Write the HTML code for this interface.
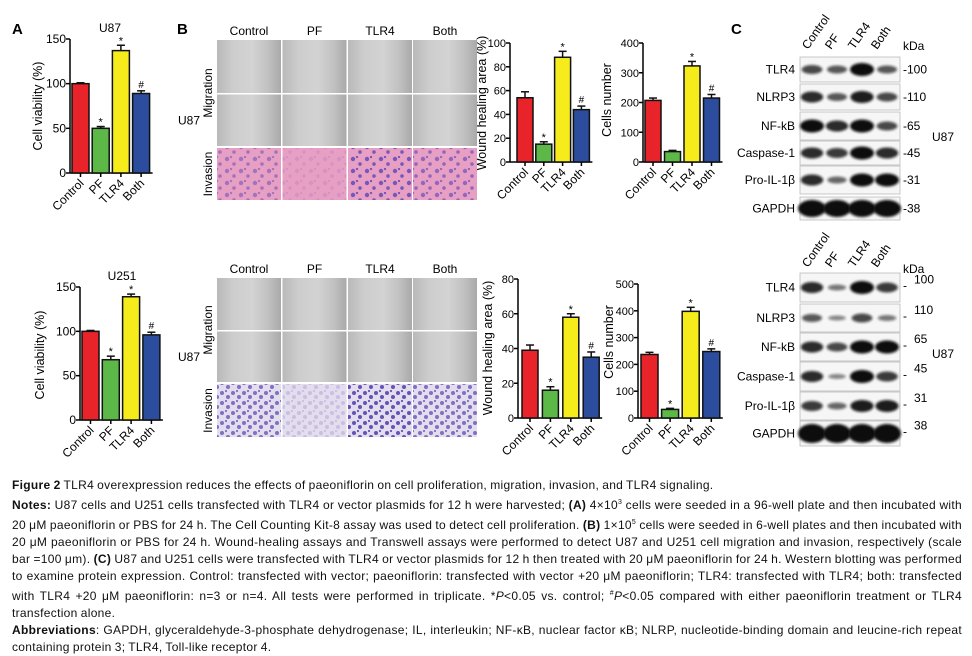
<!DOCTYPE html>
<html><head><meta charset="utf-8">
<style>
html,body{margin:0;padding:0;background:#fff;}
body{width:972px;height:654px;position:relative;overflow:hidden;font-family:"Liberation Sans",sans-serif;}
#fig{position:absolute;left:0;top:0;}
#caption{position:absolute;left:12px;top:477px;width:950px;font-size:12px;line-height:17px;color:#111;text-align:justify;letter-spacing:0.3px;word-spacing:-0.5px;}
#caption p{margin:0;text-align-last:left;}
</style></head>
<body>
<svg id="fig" width="972" height="475" viewBox="0 0 972 475" xmlns="http://www.w3.org/2000/svg" font-family="Liberation Sans, sans-serif">
<defs>
<linearGradient id="mig" x1="0" x2="1" y1="0" y2="0">
<stop offset="0" stop-color="#b9b9b9"/><stop offset="0.25" stop-color="#cdcdcd"/><stop offset="0.55" stop-color="#d3d3d3"/><stop offset="0.8" stop-color="#c1c1c1"/><stop offset="1" stop-color="#a9a9a9"/>
</linearGradient>
<pattern id="dotsA" width="14" height="12" patternUnits="userSpaceOnUse">
<circle cx="3" cy="3" r="2.2" fill="#6a4fb8"/><circle cx="10" cy="8" r="1.8" fill="#6a4fb8"/><circle cx="7" cy="1" r="1.2" fill="#6a4fb8"/>
</pattern>
<pattern id="dotsB" width="11" height="10" patternUnits="userSpaceOnUse">
<circle cx="2" cy="3" r="2" fill="#5d4cb3"/><circle cx="8" cy="7" r="2" fill="#5d4cb3"/><circle cx="6" cy="1" r="1.1" fill="#5d4cb3"/>
</pattern>
<filter id="blur" x="-20%" y="-80%" width="140%" height="260%"><feGaussianBlur stdDeviation="1.3"/></filter>
</defs>
<g id="charts"></g>
<g id="photos"></g>
<g id="blots"></g>
<text x="12" y="34" font-size="15" font-weight="bold">A</text>
<text x="177" y="34" font-size="15" font-weight="bold">B</text>
<text x="731" y="34" font-size="15" font-weight="bold">C</text>
<text x="110" y="32" font-size="12" text-anchor="middle">U87</text>
<text x="122" y="280" font-size="12" text-anchor="middle">U251</text>
</svg>
<div id="caption">
<p><b>Figure 2</b> TLR4 overexpression reduces the effects of paeoniflorin on cell proliferation, migration, invasion, and TLR4 signaling.</p>
<p><b>Notes:</b> U87 cells and U251 cells transfected with TLR4 or vector plasmids for 12 h were harvested; <b>(A)</b> 4×10<sup style="font-size:7px">3</sup> cells were seeded in a 96-well plate and then incubated with 20 μM paeoniflorin or PBS for 24 h. The Cell Counting Kit-8 assay was used to detect cell proliferation. <b>(B)</b> 1×10<sup style="font-size:7px">5</sup> cells were seeded in 6-well plates and then incubated with 20 μM paeoniflorin or PBS for 24 h. Wound-healing assays and Transwell assays were performed to detect U87 and U251 cell migration and invasion, respectively (scale bar =100 μm). <b>(C)</b> U87 and U251 cells were transfected with TLR4 or vector plasmids for 12 h then treated with 20 μM paeoniflorin for 24 h. Western blotting was performed to examine protein expression. Control: transfected with vector; paeoniflorin: transfected with vector +20 μM paeoniflorin; TLR4: transfected with TLR4; both: transfected with TLR4 +20 μM paeoniflorin: n=3 or n=4. All tests were performed in triplicate. *<i>P</i>&lt;0.05 vs. control; <sup style="font-size:7px">#</sup><i>P</i>&lt;0.05 compared with either paeoniflorin treatment or TLR4 transfection alone.</p>
<p><b>Abbreviations</b>: GAPDH, glyceraldehyde-3-phosphate dehydrogenase; IL, interleukin; NF-κB, nuclear factor κB; NLRP, nucleotide-binding domain and leucine-rich repeat containing protein 3; TLR4, Toll-like receptor 4.</p>
</div>
<script>
const categories = ["Control","PF","TLR4","Both"];
const barColors = ["#e8242a","#5cb947","#f6ec1c","#2c4d9d"];
const u87Viability = [100, 50, 137, 89];
const u87ViabilityErr = [1, 2, 6, 3];
const u87ViabilityMarks = ["", "*", "*", "#"];
const u251Viability = [100, 68, 139, 96];
const u251ViabilityErr = [1, 4, 3, 3];
const u251ViabilityMarks = ["", "*", "*", "#"];
const u87Wound = [54, 15, 88, 44];
const u87WoundErr = [5, 2, 5, 3];
const u87WoundMarks = ["", "*", "*", "#"];
const u87Cells = [207, 35, 323, 215];
const u87CellsErr = [8, 4, 15, 12];
const u87CellsMarks = ["", "", "*", "#"];
const u251Wound = [39, 16, 58, 35];
const u251WoundErr = [3, 2, 2, 3];
const u251WoundMarks = ["", "*", "*", "#"];
const u251Cells = [237, 32, 398, 248];
const u251CellsErr = [8, 4, 15, 10];
const u251CellsMarks = ["", "*", "*", "#"];
const ticksViability = [0, 50, 100, 150];
const ticksWoundTop = [0, 20, 40, 60, 80, 100];
const ticksCellsTop = [0, 100, 200, 300, 400];
const ticksWoundBottom = [0, 20, 40, 60, 80];
const ticksCellsBottom = [0, 100, 200, 300, 400, 500];

const NS = "http://www.w3.org/2000/svg";
function mk(tag, attrs, parent, txt){
  const e = document.createElementNS(NS, tag);
  for (const k in attrs) e.setAttribute(k, attrs[k]);
  if (txt !== undefined) e.textContent = txt;
  parent.appendChild(e);
  return e;
}
const chartsG = document.getElementById("charts");

function drawChart(name, cfg, values, errs, marks, ticks){
  const g = mk("g", {}, chartsG);
  
  
  const maxV = ticks[ticks.length-1];
  const yS = v => cfg.y0 - (v / maxV) * (cfg.y0 - cfg.yTop);
  const xS = i => cfg.x0 + i * cfg.step;
  const endX = xS(3) + cfg.w + 3;
  const tfs = cfg.tfs || 12;
  const ya = mk("line", {x1:cfg.ax, y1:cfg.y0, x2:cfg.ax, y2:cfg.yTop, stroke:"#000","stroke-width":1.5}, g);
  
  
  const xa = mk("line", {x1:cfg.ax, y1:cfg.y0, x2:endX, y2:cfg.y0, stroke:"#000","stroke-width":1.5}, g);
  
  
  ticks.forEach(t => {
    mk("line", {x1:cfg.ax-4, y1:yS(t), x2:cfg.ax, y2:yS(t), stroke:"#000","stroke-width":1.5}, g);
    const tl = mk("text", {x:cfg.ax-4, y:yS(t)+4, "font-size":tfs, "text-anchor":"end"}, g, String(t));
    
    
  });
  const yt = mk("text", {x:0, y:0, "font-size":12.5, "text-anchor":"middle", transform:`translate(${cfg.tx},${cfg.ty}) rotate(-90)`}, g, cfg.title);
  
  
  values.forEach((v, i) => {
    const x = xS(i);
    const b = mk("rect", {x:x, y:yS(v), width:cfg.w, height:cfg.y0 - yS(v), fill:barColors[i], stroke:"#111","stroke-width":1.5}, g);
    
    
    const cx = x + cfg.w/2;
    const top = yS(v + errs[i]);
    mk("line", {x1:cx, y1:yS(v), x2:cx, y2:top, stroke:"#111","stroke-width":1.5}, g);
    mk("line", {x1:cx-4, y1:top, x2:cx+4, y2:top, stroke:"#111","stroke-width":1.5}, g);
    if (marks[i]) {
      const m = mk("text", {x:cx, y:top - (marks[i]==="*" ? 1 : 3), "font-size": marks[i]==="*" ? 11 : 10, "text-anchor":"middle"}, g, marks[i]);
      
      
    }
    mk("line", {x1:cx, y1:cfg.y0, x2:cx, y2:cfg.y0+4, stroke:"#000","stroke-width":1.5}, g);
    const cl = mk("text", {x:0, y:0, "font-size":12, "text-anchor":"end", transform:`translate(${cx+4},${cfg.y0+11}) rotate(-45)`}, g, categories[i]);
    
    
  });
}
drawChart("u87-viability-chart", {ax:70, y0:173, yTop:39, x0:72, step:20.2, w:17, tx:42, ty:106, title:"Cell viability (%)"}, u87Viability, u87ViabilityErr, u87ViabilityMarks, ticksViability);
drawChart("u251-viability-chart", {ax:80, y0:420, yTop:287, x0:82, step:20.3, w:17, tx:44, ty:355, title:"Cell viability (%)"}, u251Viability, u251ViabilityErr, u251ViabilityMarks, ticksViability);
drawChart("u87-wound-chart", {ax:510, y0:162, yTop:43, x0:517, step:18.8, w:16, tx:486, ty:103, title:"Wound healing area (%)", tfs:11}, u87Wound, u87WoundErr, u87WoundMarks, ticksWoundTop);
drawChart("u87-cells-chart", {ax:643, y0:162, yTop:43, x0:645, step:19.5, w:16, tx:611, ty:100, title:"Cells number", tfs:11}, u87Cells, u87CellsErr, u87CellsMarks, ticksCellsTop);
drawChart("u251-wound-chart", {ax:518, y0:418, yTop:279, x0:522, step:20.4, w:16, tx:492, ty:348, title:"Wound healing area (%)", tfs:11}, u251Wound, u251WoundErr, u251WoundMarks, ticksWoundBottom);
drawChart("u251-cells-chart", {ax:638, y0:418, yTop:284, x0:641, step:20.6, w:17, tx:613, ty:342, title:"Cells number", tfs:11}, u251Cells, u251CellsErr, u251CellsMarks, ticksCellsBottom);

const photosG = document.getElementById("photos");
const colX = [217, 282.5, 348, 413];
const invDensityTop = [0.55, 0.15, 0.9, 0.7];
const invDensityBot = [0.75, 0.2, 0.95, 0.75];
function drawGrid(name, top, rows, invBase, dotPat, dens){
  const g = mk("g", {}, photosG);
  
  
  categories.forEach((c, i) => {
    const h = mk("text", {x:colX[i]+32, y:top-5, "font-size":12, "text-anchor":"middle"}, g, c);
    
    
    for (let r = 0; r < 2; r++) {
      const p = mk("rect", {x:colX[i], y:rows[r][0], width:64, height:rows[r][1]-rows[r][0], fill:"url(#mig)"}, g);
      
      
    }
    const ip = mk("rect", {x:colX[i], y:rows[2][0], width:64, height:rows[2][1]-rows[2][0], fill:invBase}, g);
    
    
    mk("rect", {x:colX[i], y:rows[2][0], width:64, height:rows[2][1]-rows[2][0], fill:"url(#"+dotPat+")", opacity:dens[i]}, g);
  });
  mk("text", {x:0, y:0, "font-size":12, "text-anchor":"middle", transform:`translate(212,${(rows[0][0]+rows[1][1])/2}) rotate(-90)`}, g, "Migration");
  mk("text", {x:0, y:0, "font-size":12, "text-anchor":"middle", transform:`translate(212,${(rows[2][0]+rows[2][1])/2}) rotate(-90)`}, g, "Invasion");
  mk("text", {x:178, y:(rows[1][0]+rows[1][1])/2+4, "font-size":12}, g, "U87");
}
drawGrid("u87-photo-grid", 40, [[40,93],[94.5,146],[148,200]], "#e7a0c4", "dotsA", invDensityTop);
drawGrid("u251-photo-grid", 278, [[278,330],[331.5,382],[384,437]], "#e3ddee", "dotsB", invDensityBot);

const blotsG = document.getElementById("blots");
const proteins = ["TLR4","NLRP3","NF-kB","Caspase-1","Pro-IL-1β","GAPDH"];
const kdaTop = ["-100","-110","-65","-45","-31","-38"];
const kdaBot = ["100","110","65","45","31","38"];
const bandsTop = [[0.6,0.5,1,0.5],[0.8,0.5,0.9,0.6],[1,0.8,1,0.6],[0.8,0.7,1,0.8],[0.8,0.4,1,1],[1,1,1,1]];
const bandsBot = [[0.8,0.3,1,0.7],[0.5,0.2,0.6,0.3],[0.8,0.6,1,1],[0.8,0.2,1,0.7],[0.7,0.4,0.9,0.9],[1,1,1,1]];
function drawBlot(name, rows, bands, kda, headerY, kdaY, u87Y, dotted){
  const g = mk("g", {}, blotsG);
  
  
  categories.forEach((c, i) => {
    const t = mk("text", {x:0, y:0, "font-size":12, transform:`translate(${808+i*23},${headerY}) rotate(-55)`}, g, c);
    
    
  });
  mk("text", {x:903, y:kdaY, "font-size":12}, g, "kDa");
  rows.forEach((r, k) => {
    const box = mk("rect", {x:800, y:r[0], width:100, height:r[1]-r[0], fill:"#f6f6f6", stroke:"#bbb","stroke-width":0.8}, g);
    
    
    const cy = (r[0]+r[1])/2;
    bands[k].forEach((v, i) => {
      const full = k === 5;
      mk("ellipse", {cx:812+i*25, cy:cy, rx: full ? 14 : 8 + 4*v, ry: full ? (r[1]-r[0])/2-3 : 1.5 + 5*v, fill:"#111", opacity: 0.35 + 0.65*v, filter:"url(#blur)"}, g);
    });
    const lb = mk("text", {x:795, y:cy+4, "font-size":12, "text-anchor":"end"}, g, proteins[k]);
    
    
    if (dotted) {
      mk("text", {x:903, y:cy+2, "font-size":12}, g, "-");
      mk("text", {x:914, y:cy-4, "font-size":12}, g, kda[k]);
    } else {
      mk("text", {x:903, y:cy+4, "font-size":12}, g, kda[k]);
    }
  });
  mk("text", {x:932, y:u87Y, "font-size":12}, g, "U87");
}
drawBlot("u87-western-blot", [[57,82],[84,110],[112,140],[141,165],[166,194],[197,220]], bandsTop, kdaTop, 50, 50, 141, false);
drawBlot("u251-western-blot", [[273,302],[304,332],[333,361],[362,391],[392,420],[421,446]], bandsBot, kdaBot, 268, 273, 358, true);
</script>
</body></html>
